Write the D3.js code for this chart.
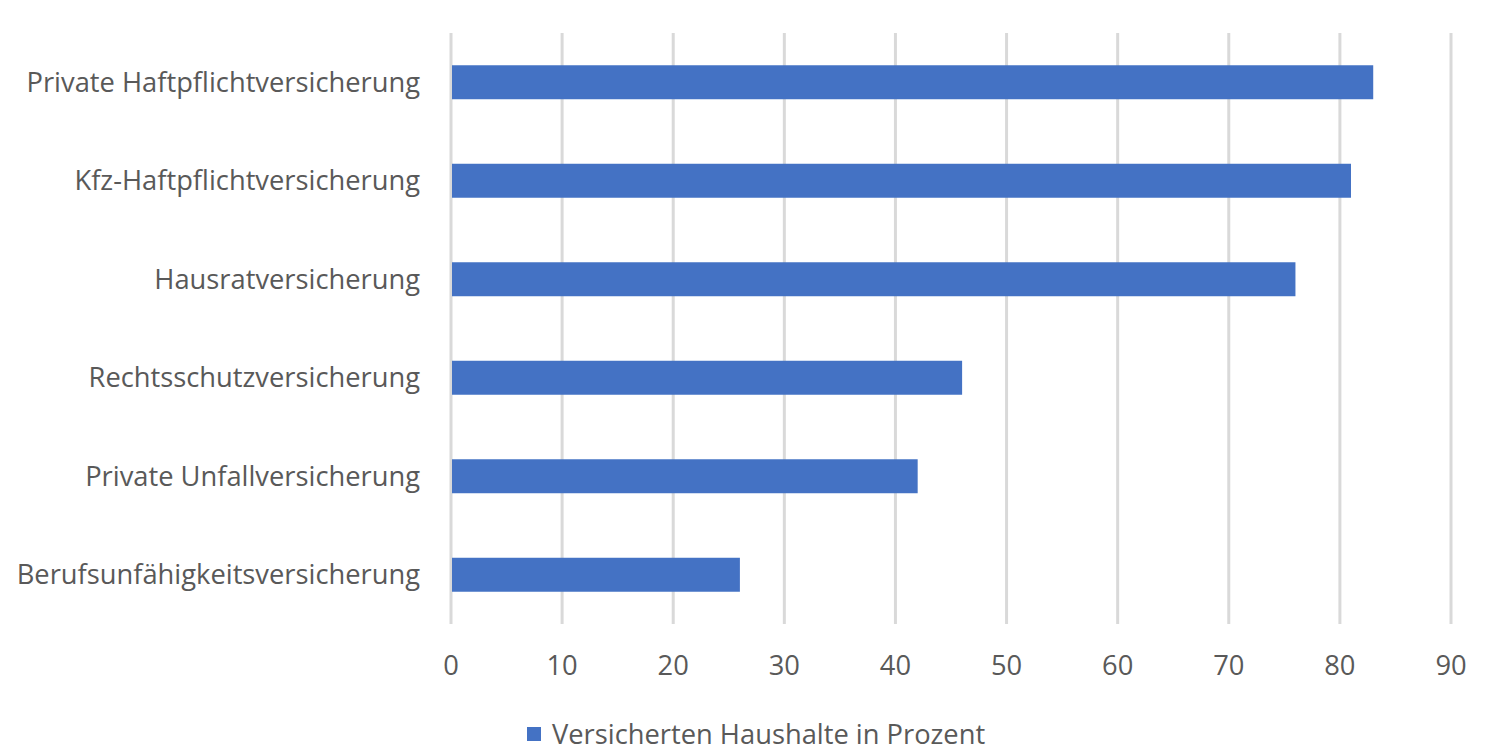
<!DOCTYPE html>
<html><head><meta charset="utf-8">
<script src="https://cdn.jsdelivr.net/npm/d3@7"></script>
<style>body{margin:0;background:#fff;} text{font-family:"Open Sans", Lato, sans-serif;}</style>
</head><body>
<svg id="c" width="1499" height="752"></svg>
<script>
const categories = ["Private Haftpflichtversicherung","Kfz-Haftpflichtversicherung","Hausratversicherung","Rechtsschutzversicherung","Private Unfallversicherung","Berufsunfähigkeitsversicherung"];
const values = [83, 81, 76, 46, 42, 26];
const xTicks = [0,10,20,30,40,50,60,70,80,90];
const seriesName = "Versicherten Haushalte in Prozent";

(function(){
const svg = d3.select("#c");
const mL = 451, mR = 1451, mT = 33, mB = 624;
const x = d3.scaleLinear().domain([0,90]).range([mL,mR]);
const y = d3.scaleBand().domain(categories).range([mT,mB]).paddingInner(0.655).paddingOuter(0.3275);
const txt = "#595959", col = "#4472c4";
const fs = 27.3;

svg.append("g").selectAll("line").data(xTicks).join("line")
  .attr("x1",d=>x(d)).attr("x2",d=>x(d)).attr("y1",mT).attr("y2",mB)
  .attr("stroke","#d9d9d9").attr("stroke-width",3);

svg.append("g").selectAll("rect").data(values).join("rect")
  .attr("x",x(0)+1).attr("y",(d,i)=>y(categories[i]))
  .attr("width",d=>x(d)-x(0)-1).attr("height",y.bandwidth()).attr("fill",col);

svg.append("g").selectAll("text").data(categories).join("text")
  .attr("x",420).attr("y",d=>y(d)+y.bandwidth()/2).attr("dy","0.35em")
  .attr("text-anchor","end").attr("fill",txt).attr("font-size",fs).text(d=>d);

svg.append("g").selectAll("text").data(xTicks).join("text")
  .attr("x",d=>x(d)).attr("y",665).attr("dy","0.35em")
  .attr("text-anchor","middle").attr("fill",txt).attr("font-size",fs).text(d=>d);

svg.append("rect").attr("x",527).attr("y",727).attr("width",14).attr("height",14).attr("fill",col);
svg.append("text").attr("x",552).attr("y",734).attr("dy","0.35em").attr("fill",txt).attr("font-size",fs).text(seriesName);
})();
</script>
</body></html>
